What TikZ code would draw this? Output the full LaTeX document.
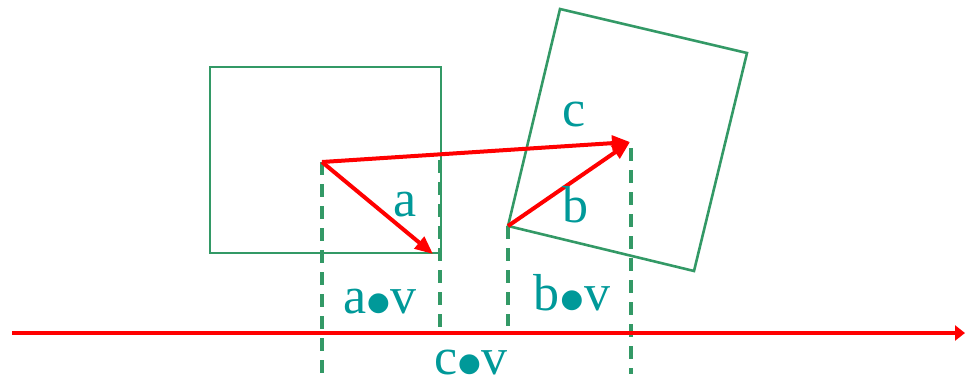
\documentclass[tikz,border=0pt]{standalone}
\usepackage{fontspec}
\setmainfont{Liberation Serif}
\newfontfamily\symfont{DejaVu Sans}
\usetikzlibrary{arrows.meta}
\definecolor{boxgreen}{RGB}{51,153,102}
\definecolor{labteal}{RGB}{0,153,153}
\newcommand{\bigdot}{\kern1pt\raisebox{3pt}{\symfont\fontsize{26}{26}\selectfont ●}\kern1pt}
\begin{document}
\begin{tikzpicture}[x=1pt,y=-1pt,
  boxline/.style={draw=boxgreen,line width=2.6pt},
  dashline/.style={draw=boxgreen,line width=3.5pt,dash pattern=on 13pt off 9pt},
  vec/.style={draw=red,line width=4pt,-{Triangle[length=18pt,width=15pt]}},
  lab/.style={text=labteal,font=\fontsize{52}{52}\selectfont,inner sep=0pt}]
\useasboundingbox (0,0) rectangle (965,383);
% left box
\coordinate (L1) at (210,67);
\coordinate (L2) at (441,253);
\draw[boxline] (L1) rectangle (L2);
% rotated box
\coordinate (R1) at (560,9);
\coordinate (R2) at (747,53);
\coordinate (R3) at (694,271);
\coordinate (R4) at (508,226);
\draw[boxline] (R1) -- (R2) -- (R3) -- (R4) -- cycle;
% vector points
\coordinate (O) at (322,162);
\coordinate (A) at (433,254);
\coordinate (C) at (630,142);
\coordinate (B0) at (508,226);
% dashed projections
\coordinate (d1t) at (322,162); \coordinate (d1b) at (322,376);
\coordinate (d2t) at (440,160); \coordinate (d2b) at (440,333);
\coordinate (d3t) at (508,226); \coordinate (d3b) at (508,326);
\coordinate (d4t) at (631,148); \coordinate (d4b) at (631,374);
\draw[dashline] (d1t) -- (d1b);
\draw[dashline] (d2t) -- (d2b);
\draw[dashline] (d3t) -- (d3b);
\draw[dashline] (d4t) -- (d4b);
% axis
\coordinate (X0) at (12,333);
\coordinate (X1) at (965,333);
\draw[draw=red,line width=4pt,-{Triangle[length=10pt,width=15pt]}] (X0) -- (X1);
% vectors
\draw[vec] (O) -- (A);
\draw[vec] (O) -- (C);
\draw[vec] (B0) -- (C);
% labels
\node[lab] (la) at (405,205) {a};
\node[lab] (lc) at (574,114) {c};
\node[lab] (lb) at (575,205) {b};
\node[lab] (lav) at (380,302) {a\bigdot v};
\node[lab] (lbv) at (572,293) {b\bigdot v};
\node[lab] (lcv) at (471,362) {c\bigdot v};
\end{tikzpicture}
\end{document}
